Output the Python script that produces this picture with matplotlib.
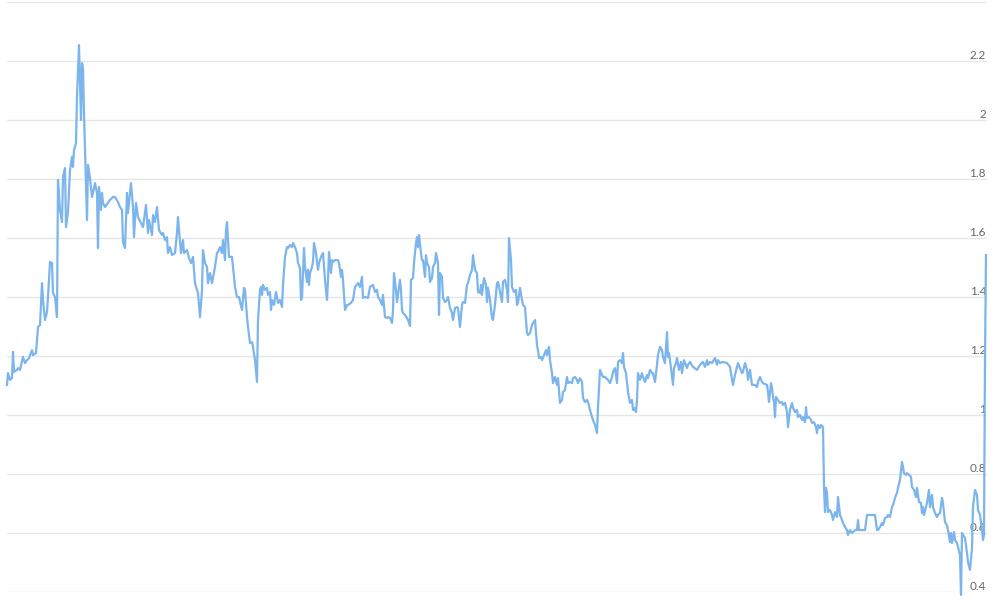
import matplotlib.pyplot as plt
import matplotlib.transforms as mtransforms

# trading day index and closing value
days = [
    0, 1, 3, 5, 6, 7, 10, 11, 13, 16, 18, 20, 22, 25, 26, 29, 31, 33, 35, 36,
    38, 40, 41, 43, 45, 46, 48, 50, 51, 53, 55, 56, 58, 59, 61, 63, 65, 66, 67, 69,
    70, 72, 73, 74, 75, 76, 77, 79, 80, 81, 83, 85, 86, 88, 90, 91, 92, 94, 95, 96,
    98, 103, 106, 108, 111, 113, 115, 116, 118, 120, 121, 124, 126, 127, 129, 131, 134, 136, 139, 141,
    142, 145, 146, 148, 150, 152, 155, 156, 158, 160, 161, 163, 165, 168, 170, 171, 172, 174, 176, 177,
    180, 182, 184, 186, 188, 190, 191, 193, 195, 196, 198, 200, 201, 203, 205, 208, 210, 211, 213, 215,
    216, 218, 219, 220, 222, 225, 226, 228, 230, 232, 235, 237, 238, 240, 241, 243, 245, 246, 248, 250,
    251, 253, 254, 255, 256, 258, 260, 261, 263, 264, 265, 267, 269, 270, 271, 273, 275, 276, 278, 280,
    281, 283, 285, 286, 288, 290, 291, 293, 294, 295, 297, 298, 300, 301, 302, 303, 305, 306, 307, 309,
    311, 312, 314, 316, 318, 320, 321, 322, 324, 325, 326, 328, 331, 332, 334, 335, 336, 338, 340, 341,
    344, 346, 348, 351, 353, 355, 356, 358, 361, 363, 366, 368, 370, 371, 373, 375, 376, 378, 380, 381,
    383, 385, 386, 387, 389, 390, 392, 393, 394, 395, 396, 398, 400, 401, 403, 404, 406, 407, 409, 410,
    411, 412, 414, 415, 416, 418, 419, 420, 422, 423, 425, 426, 428, 429, 431, 432, 433, 435, 436, 438,
    440, 441, 443, 445, 446, 448, 450, 451, 453, 455, 456, 458, 460, 461, 463, 465, 466, 468, 470, 471,
    473, 474, 475, 477, 479, 480, 481, 483, 485, 486, 488, 490, 491, 493, 495, 496, 498, 500, 501, 502,
    504, 505, 507, 509, 510, 511, 513, 515, 516, 518, 520, 521, 523, 525, 526, 528, 530, 531, 532, 534,
    535, 537, 539, 540, 542, 543, 545, 546, 548, 550, 551, 553, 555, 556, 558, 560, 561, 563, 565, 566,
    568, 570, 571, 573, 575, 576, 578, 580, 581, 583, 585, 586, 588, 590, 591, 593, 595, 596, 598, 601,
    603, 605, 606, 608, 610, 611, 613, 615, 616, 617, 619, 621, 623, 625, 626, 627, 629, 630, 631, 633,
    635, 636, 638, 640, 641, 643, 645, 646, 648, 650, 651, 653, 655, 656, 658, 660, 661, 662, 664, 666,
    667, 669, 670, 672, 674, 675, 677, 680, 681, 683, 686, 690, 693, 696, 698, 700, 701, 703, 705, 708,
    710, 711, 713, 716, 720, 723, 725, 726, 728, 730, 731, 733, 735, 736, 738, 740, 741, 743, 745, 748,
    750, 751, 753, 755, 756, 760, 761, 762, 764, 765, 766, 767, 768, 769, 771, 773, 775, 776, 778, 780,
    781, 783, 785, 786, 788, 790, 791, 793, 795, 796, 798, 799, 800, 802, 804, 805, 807, 809, 810, 811,
    813, 814, 816, 817, 818, 819, 820, 821, 823, 825, 826, 828, 830, 831, 833, 835, 836, 838, 840, 841,
    843, 845, 846, 848, 850, 851, 852, 855, 858, 860, 863, 866, 868, 870, 871, 873, 875, 876, 878, 880,
    881, 883, 885, 886, 888, 890, 891, 893, 895, 896, 897, 899, 900, 902, 904, 905, 907, 909, 910, 912,
    914, 915, 916, 917, 919, 920, 922, 923, 925, 926, 928, 930, 931, 933, 935, 936, 938, 940, 941, 943,
    944, 945, 947, 948, 950, 951, 953, 954, 955, 956, 958, 960, 961, 963, 965, 966, 968, 970, 971, 973,
    975, 976, 977, 978, 979,
]
values = [
    1.102, 1.142, 1.119, 1.125, 1.214, 1.146, 1.153, 1.159, 1.153, 1.197, 1.176, 1.186, 1.193, 1.220, 1.203, 1.210, 1.298, 1.305, 1.447, 1.390,
    1.322, 1.349, 1.400, 1.519, 1.515, 1.414, 1.400, 1.332, 1.797, 1.695, 1.654, 1.807, 1.837, 1.637, 1.688, 1.831, 1.875, 1.841, 1.898, 1.922,
    2.078, 2.254, 2.129, 2.000, 2.193, 2.176, 2.024, 1.773, 1.661, 1.848, 1.803, 1.739, 1.753, 1.786, 1.753, 1.566, 1.773, 1.695, 1.753, 1.719,
    1.705, 1.729, 1.739, 1.739, 1.722, 1.705, 1.695, 1.586, 1.566, 1.753, 1.685, 1.786, 1.705, 1.603, 1.719, 1.671, 1.651, 1.637, 1.712, 1.617,
    1.661, 1.610, 1.678, 1.654, 1.705, 1.627, 1.610, 1.617, 1.593, 1.603, 1.549, 1.569, 1.542, 1.549, 1.617, 1.671, 1.627, 1.549, 1.593, 1.549,
    1.559, 1.532, 1.515, 1.536, 1.447, 1.424, 1.414, 1.332, 1.424, 1.559, 1.515, 1.502, 1.447, 1.481, 1.447, 1.502, 1.549, 1.553, 1.569, 1.549,
    1.593, 1.525, 1.627, 1.654, 1.536, 1.536, 1.502, 1.434, 1.400, 1.400, 1.356, 1.431, 1.424, 1.332, 1.298, 1.244, 1.247, 1.231, 1.186, 1.112,
    1.322, 1.424, 1.434, 1.407, 1.441, 1.424, 1.431, 1.407, 1.417, 1.356, 1.390, 1.373, 1.417, 1.400, 1.380, 1.390, 1.366, 1.441, 1.536, 1.569,
    1.566, 1.576, 1.569, 1.583, 1.569, 1.549, 1.515, 1.498, 1.390, 1.397, 1.566, 1.502, 1.451, 1.492, 1.441, 1.481, 1.502, 1.519, 1.583, 1.549,
    1.492, 1.515, 1.536, 1.549, 1.458, 1.390, 1.458, 1.553, 1.481, 1.525, 1.519, 1.525, 1.525, 1.515, 1.468, 1.492, 1.458, 1.356, 1.373, 1.373,
    1.380, 1.390, 1.434, 1.447, 1.434, 1.468, 1.397, 1.400, 1.397, 1.434, 1.441, 1.417, 1.424, 1.400, 1.390, 1.373, 1.407, 1.332, 1.329, 1.332,
    1.329, 1.312, 1.356, 1.481, 1.424, 1.383, 1.434, 1.458, 1.424, 1.356, 1.346, 1.339, 1.329, 1.322, 1.302, 1.458, 1.464, 1.515, 1.583, 1.603,
    1.569, 1.610, 1.549, 1.525, 1.525, 1.468, 1.542, 1.515, 1.502, 1.451, 1.464, 1.502, 1.515, 1.549, 1.515, 1.339, 1.481, 1.468, 1.397, 1.383,
    1.390, 1.400, 1.363, 1.346, 1.322, 1.363, 1.366, 1.363, 1.298, 1.373, 1.383, 1.380, 1.441, 1.447, 1.475, 1.492, 1.542, 1.492, 1.481, 1.417,
    1.414, 1.441, 1.407, 1.464, 1.441, 1.383, 1.431, 1.390, 1.329, 1.322, 1.373, 1.447, 1.451, 1.417, 1.383, 1.451, 1.458, 1.424, 1.383, 1.600,
    1.525, 1.434, 1.417, 1.424, 1.373, 1.380, 1.431, 1.390, 1.373, 1.366, 1.278, 1.271, 1.278, 1.305, 1.312, 1.322, 1.237, 1.220, 1.193, 1.197,
    1.186, 1.203, 1.220, 1.203, 1.231, 1.186, 1.142, 1.108, 1.129, 1.102, 1.125, 1.041, 1.051, 1.078, 1.085, 1.129, 1.108, 1.112, 1.108, 1.125,
    1.129, 1.119, 1.108, 1.125, 1.112, 1.058, 1.044, 1.051, 1.044, 1.017, 0.993, 0.983, 0.966, 0.939, 1.027, 1.153, 1.136, 1.129, 1.129, 1.119,
    1.108, 1.129, 1.146, 1.159, 1.108, 1.180, 1.186, 1.176, 1.210, 1.163, 1.142, 1.078, 1.041, 1.051, 1.017, 1.024, 1.010, 1.051, 1.142, 1.119,
    1.142, 1.129, 1.112, 1.136, 1.125, 1.153, 1.142, 1.142, 1.112, 1.170, 1.203, 1.231, 1.220, 1.197, 1.176, 1.281, 1.197, 1.210, 1.159, 1.102,
    1.159, 1.176, 1.193, 1.153, 1.180, 1.142, 1.186, 1.159, 1.170, 1.180, 1.163, 1.153, 1.170, 1.180, 1.163, 1.186, 1.170, 1.180, 1.176, 1.193,
    1.170, 1.186, 1.176, 1.180, 1.176, 1.163, 1.119, 1.102, 1.136, 1.163, 1.176, 1.159, 1.142, 1.146, 1.176, 1.153, 1.119, 1.153, 1.102, 1.102,
    1.095, 1.112, 1.129, 1.112, 1.108, 1.102, 1.078, 1.044, 1.108, 1.092, 1.061, 1.044, 0.993, 1.061, 1.051, 1.041, 1.044, 1.034, 1.041, 1.010,
    0.959, 1.017, 1.041, 1.024, 1.010, 1.017, 0.993, 1.000, 0.983, 0.993, 0.976, 1.027, 0.990, 0.993, 0.983, 0.973, 0.976, 0.959, 0.939, 0.966,
    0.956, 0.966, 0.959, 0.756, 0.671, 0.753, 0.736, 0.671, 0.678, 0.661, 0.644, 0.671, 0.654, 0.722, 0.661, 0.644, 0.634, 0.620, 0.610, 0.593,
    0.610, 0.600, 0.603, 0.610, 0.610, 0.644, 0.610, 0.610, 0.610, 0.661, 0.661, 0.661, 0.661, 0.610, 0.610, 0.620, 0.634, 0.627, 0.651, 0.654,
    0.661, 0.654, 0.688, 0.695, 0.719, 0.736, 0.753, 0.780, 0.841, 0.824, 0.803, 0.797, 0.803, 0.797, 0.790, 0.756, 0.746, 0.722, 0.753, 0.705,
    0.702, 0.668, 0.688, 0.661, 0.688, 0.702, 0.746, 0.688, 0.729, 0.688, 0.668, 0.654, 0.661, 0.668, 0.719, 0.702, 0.637, 0.627, 0.610, 0.569,
    0.600, 0.566, 0.603, 0.576, 0.566, 0.553, 0.525, 0.390, 0.600, 0.593, 0.583, 0.532, 0.502, 0.475, 0.549, 0.688, 0.746, 0.729, 0.678, 0.661,
    0.610, 0.576, 0.593, 1.186, 1.542,
]
y_ticks = [0.4, 0.6, 0.8, 1.0, 1.2, 1.4, 1.6, 1.8, 2.0, 2.2, 2.4]
tick_labels = ["0.4", "0.6", "0.8", "1", "1.2", "1.4", "1.6", "1.8", "2", "2.2", ""]

fig = plt.figure(figsize=(10, 6.03), dpi=100)
ax = fig.add_axes([0.007, 11 / 603, 0.98, 590 / 603])

for t in y_ticks:
    ax.axhline(t, color="#e6e6e6", linewidth=1, zorder=1)

ax.plot(days, values, color="#7cb5ec", linewidth=1.6, zorder=3, clip_on=False)

# value labels sit inside the plot, right-aligned just above each gridline
trans = mtransforms.blended_transform_factory(ax.transAxes, ax.transData)
for t, lab in zip(y_ticks, tick_labels):
    ax.text(0.999, t, lab, transform=trans, ha="right", va="bottom",
            fontsize=8.5, color="#666666", family="Lato", zorder=2)

ax.set_xlim(0, 980)
ax.set_ylim(0.4, 2.4)
ax.set_xticks([])
ax.set_yticks([])
for s in ax.spines.values():
    s.set_visible(False)

fig.savefig("out.png", dpi=100)
